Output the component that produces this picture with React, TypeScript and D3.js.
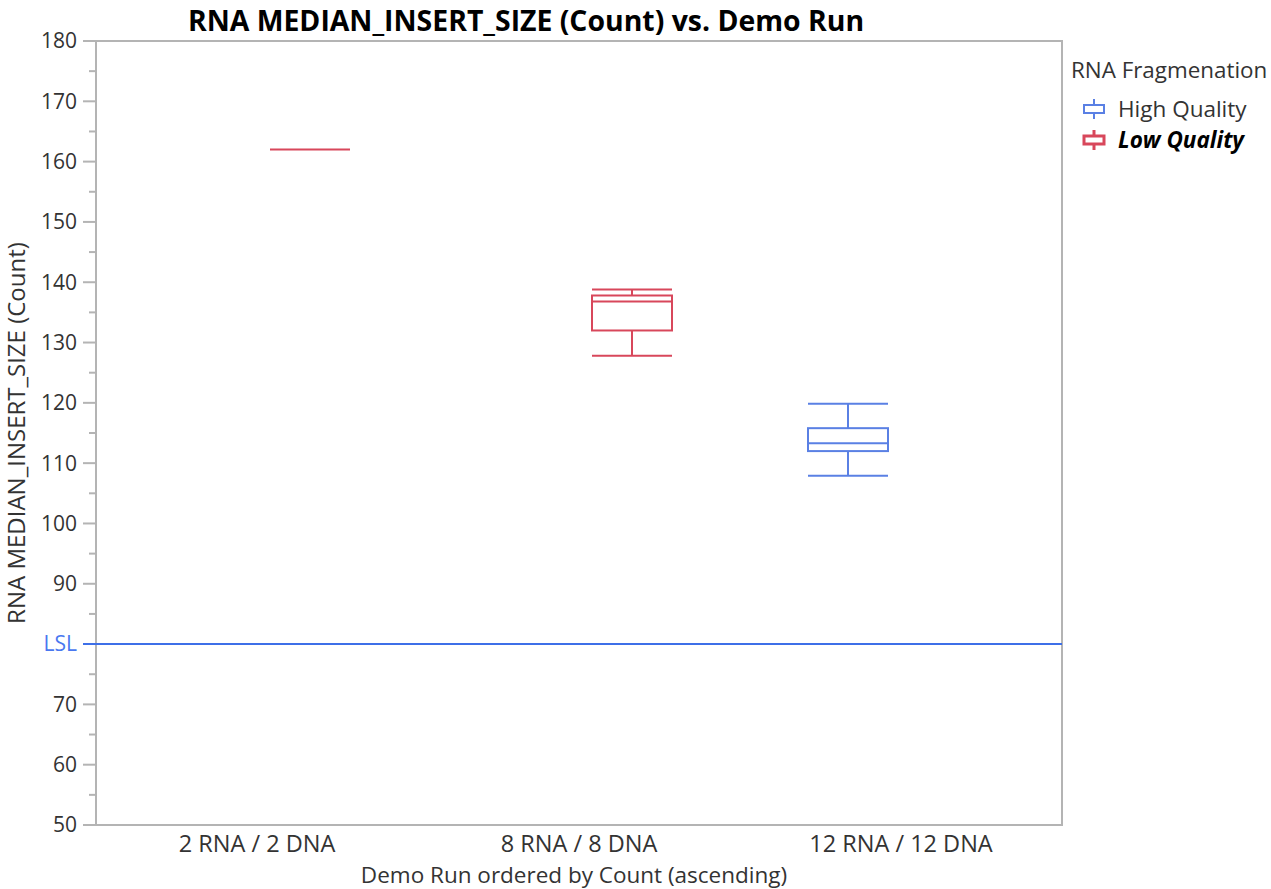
import React from "react";
import * as d3 from "d3";

const categories = ["2 RNA / 2 DNA", "8 RNA / 8 DNA", "12 RNA / 12 DNA"];
const groups = ["High Quality", "Low Quality"];
const groupColors = ["#5a80e4", "#d8475b"];

const boxCategory = ["2 RNA / 2 DNA", "8 RNA / 8 DNA", "12 RNA / 12 DNA"];
const boxGroup = ["Low Quality", "Low Quality", "High Quality"];
const boxMin = [162, 127.8, 107.9];
const boxQ1 = [162, 132, 112];
const boxMedian = [162, 136.8, 113.3];
const boxQ3 = [162, 137.8, 115.8];
const boxMax = [162, 138.8, 119.85];

const yMajorTicks = [50, 60, 70, 90, 100, 110, 120, 130, 140, 150, 160, 170, 180];
const yMinorTicks = [55, 65, 75, 85, 95, 105, 115, 125, 135, 145, 155, 165, 175];
const lslValue = 80;

const W = 1271;
const H = 889;
const margin = { left: 96, right: 1062, top: 41, bottom: 825 };
const FONT = "'Open Sans', 'Noto Sans', sans-serif";

export default function App() {
  const y = d3.scaleLinear().domain([50, 180]).range([margin.bottom, margin.top]);
  const x = d3.scaleBand<string>().domain(categories).range([margin.left, margin.right]).padding(0);
  const bw = x.bandwidth();
  const gx = d3.scalePoint<string>().domain(groups).range([bw / 2 - 53, bw / 2 + 53]);
  const boxW = 80;
  const axisColor = "#b4b4b4";
  const textColor = "#333";

  return (
    <svg width={W} height={H} style={{ position: "absolute", left: 0, top: 0 }} fontFamily={FONT}>
      <rect x={0} y={0} width={W} height={H} fill="#fff" />
      <text x={526} y={31} textAnchor="middle" fontWeight="bold" fontSize={28.4} fill="#000">
        RNA MEDIAN_INSERT_SIZE (Count) vs. Demo Run
      </text>

      {/* frame */}
      <rect x={margin.left} y={margin.top} width={margin.right - margin.left} height={margin.bottom - margin.top} fill="none" stroke={axisColor} strokeWidth={2} />

      {/* y ticks */}
      {yMajorTicks.map((t) => (
        <g key={"M" + t}>
          <line x1={83} x2={margin.left} y1={y(t)} y2={y(t)} stroke={axisColor} strokeWidth={2} />
          <text x={77} y={y(t)} dy="0.35em" textAnchor="end" fontSize={21} fill={textColor}>{t}</text>
        </g>
      ))}
      {yMinorTicks.map((t) => (
        <line key={"m" + t} x1={89} x2={margin.left} y1={y(t)} y2={y(t)} stroke={axisColor} strokeWidth={2} />
      ))}

      {/* LSL */}
      <line x1={83} x2={margin.right} y1={y(lslValue)} y2={y(lslValue)} stroke="#3d6fe8" strokeWidth={2} />
      <text x={77} y={y(lslValue)} dy="0.35em" textAnchor="end" fontSize={21} fill="#4a78f0">LSL</text>

      {/* boxes */}
      {boxCategory.map((c, i) => {
        const cx = (x(c) as number) + (gx(boxGroup[i]) as number);
        const color = groupColors[groups.indexOf(boxGroup[i])];
        const x0 = cx - boxW / 2;
        const x1 = cx + boxW / 2;
        const flat = boxMin[i] === boxMax[i];
        return (
          <g key={i} stroke={color} strokeWidth={2} fill="none">
            {flat ? (
              <line x1={x0} x2={x1} y1={y(boxMedian[i])} y2={y(boxMedian[i])} />
            ) : (
              <>
                <line x1={x0} x2={x1} y1={y(boxMax[i])} y2={y(boxMax[i])} />
                <line x1={x0} x2={x1} y1={y(boxMin[i])} y2={y(boxMin[i])} />
                <line x1={cx} x2={cx} y1={y(boxMax[i])} y2={y(boxQ3[i])} />
                <line x1={cx} x2={cx} y1={y(boxQ1[i])} y2={y(boxMin[i])} />
                <rect x={x0} y={y(boxQ3[i])} width={boxW} height={y(boxQ1[i]) - y(boxQ3[i])} />
                <line x1={x0} x2={x1} y1={y(boxMedian[i])} y2={y(boxMedian[i])} />
              </>
            )}
          </g>
        );
      })}

      {/* x labels */}
      {categories.map((c) => (
        <text key={c} x={(x(c) as number) + bw / 2} y={852} textAnchor="middle" fontSize={23.5} fill={textColor}>{c}</text>
      ))}
      <text x={574} y={883} textAnchor="middle" fontSize={22.5} fill={textColor}>Demo Run ordered by Count (ascending)</text>
      <text transform={`translate(25,${(margin.top + margin.bottom) / 2}) rotate(-90)`} textAnchor="middle" fontSize={24} fill={textColor}>
        RNA MEDIAN_INSERT_SIZE (Count)
      </text>

      {/* legend */}
      <text x={1071} y={78} fontSize={22.4} fill={textColor}>RNA Fragmenation</text>
      {groups.map((g, i) => {
        const cy = 109 + i * 31;
        const bold = i === 1;
        return (
          <g key={g}>
            <g stroke={groupColors[i]} strokeWidth={bold ? 3 : 2} fill="none">
              <line x1={1094} x2={1094} y1={cy - 10} y2={cy + 10} />
              <rect x={1084} y={cy - 4} width={20} height={8} fill="#fff" />
            </g>
            <text x={1118} y={cy} dy="0.35em" fontSize={22.5} fontWeight={bold ? "bold" : "normal"} fontStyle={bold ? "italic" : "normal"} fill={bold ? "#000" : textColor}>
              {g}
            </text>
          </g>
        );
      })}
    </svg>
  );
}
